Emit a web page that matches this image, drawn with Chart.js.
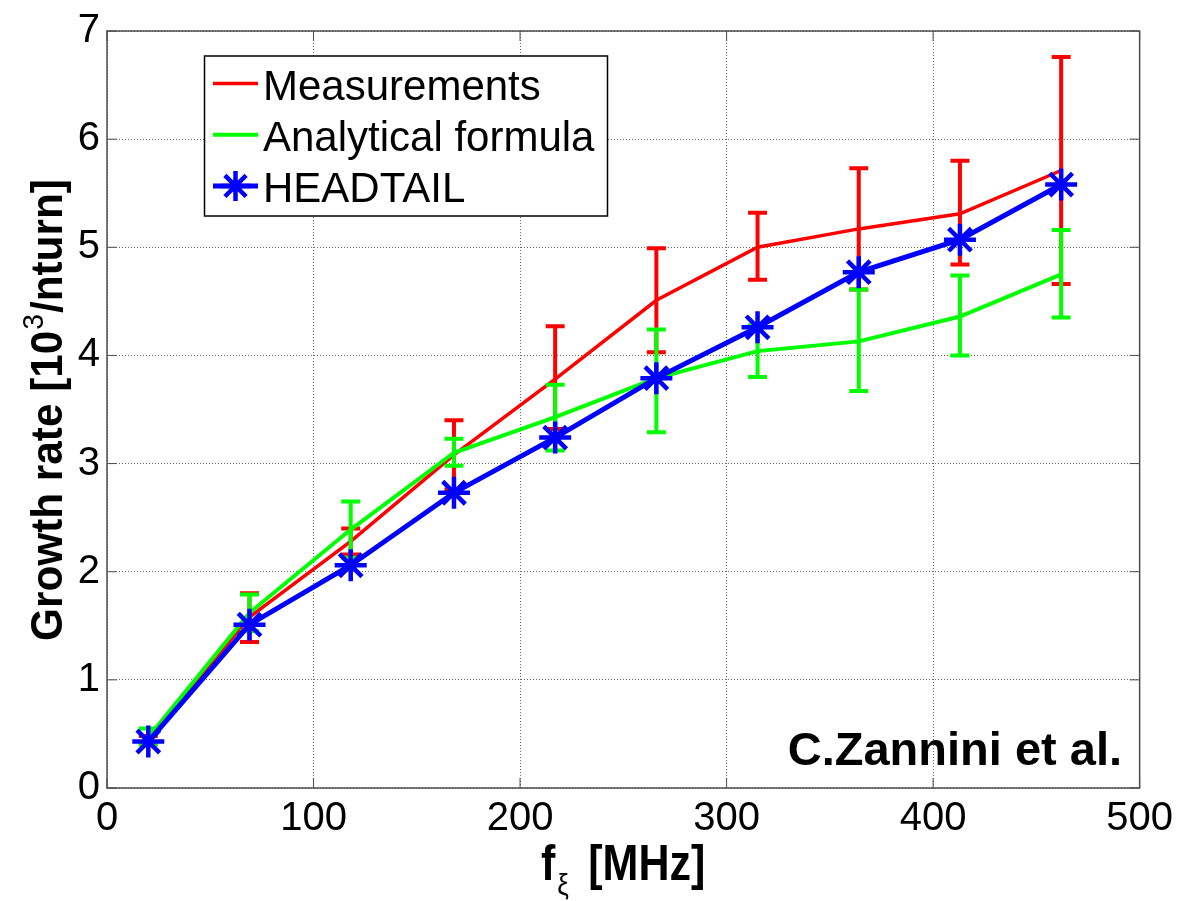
<!DOCTYPE html>
<html>
<head>
<meta charset="utf-8">
<script src="https://cdn.jsdelivr.net/npm/chart.js@4.4.0/dist/chart.umd.min.js"></script>
<style>
body { margin: 0; background: #fff; }
#wrap { width: 1180px; height: 901px; }
</style>
</head>
<body>
<div id="wrap"><canvas id="myChart" width="1180" height="901"></canvas></div>
<script>
// frequencies [MHz]
var freq = [20, 69, 118, 168, 217, 266, 315, 364, 413, 462];

var measurements = [0.45, 1.58, 2.28, 3.08, 3.78, 4.51, 5.00, 5.17, 5.31, 5.71];
var measLow      = [0.42, 1.35, 2.16, 2.76, 3.32, 4.03, 4.70, 4.61, 4.84, 4.66];
var measHigh     = [0.48, 1.80, 2.40, 3.40, 4.27, 4.99, 5.32, 5.73, 5.80, 6.76];

var analytical = [0.47, 1.62, 2.39, 3.10, 3.43, 3.79, 4.04, 4.13, 4.36, 4.75];
var anaLow     = [0.40, 1.45, 2.13, 2.98, 3.12, 3.29, 3.80, 3.67, 4.00, 4.35];
var anaHigh    = [0.55, 1.79, 2.65, 3.23, 3.73, 4.24, 4.28, 4.61, 4.74, 5.16];

var headtail = [0.43, 1.51, 2.06, 2.73, 3.24, 3.79, 4.26, 4.77, 5.07, 5.58];

var xTicks = [0, 100, 200, 300, 400, 500];
var yTicks = [0, 1, 2, 3, 4, 5, 6, 7];

function pts(ys) {
	return freq.map(function(f, i) { return {x: f, y: ys[i]}; });
}

var FONT = "'Liberation Sans', Arial, Helvetica, sans-serif";

// error bars, drawn right after their own line
var errorBars = {
	id: 'errorBars',
	afterDatasetDraw: function(chart, args) {
		var ds = chart.data.datasets[args.index];
		if (!ds.errLow) return;
		var sx = chart.scales.x, sy = chart.scales.y, ctx = chart.ctx, a = chart.chartArea;
		ctx.save();
		ctx.beginPath();
		ctx.rect(a.left, a.top, a.right - a.left, a.bottom - a.top);
		ctx.clip();
		ctx.strokeStyle = ds.borderColor;
		ctx.lineWidth = 4;
		ds.data.forEach(function(p, i) {
			var px = sx.getPixelForValue(p.x);
			var lo = sy.getPixelForValue(ds.errLow[i]);
			var hi = sy.getPixelForValue(ds.errHigh[i]);
			ctx.beginPath();
			ctx.moveTo(px, lo); ctx.lineTo(px, hi);
			ctx.moveTo(px - 9.5, lo); ctx.lineTo(px + 9.5, lo);
			ctx.moveTo(px - 9.5, hi); ctx.lineTo(px + 9.5, hi);
			ctx.stroke();
		});
		ctx.restore();
	}
};

// axes box, inward ticks, legend, labels
var decorations = {
	id: 'decorations',
	afterDraw: function(chart) {
		var ctx = chart.ctx, a = chart.chartArea, sx = chart.scales.x, sy = chart.scales.y;
		ctx.save();
		ctx.strokeStyle = '#4d4d4d';
		ctx.lineWidth = 1.5;
		ctx.strokeRect(a.left, a.top, a.right - a.left, a.bottom - a.top);
		ctx.lineWidth = 1;
		ctx.beginPath();
		xTicks.forEach(function(v) {
			var px = sx.getPixelForValue(v);
			ctx.moveTo(px, a.bottom); ctx.lineTo(px, a.bottom - 10);
			ctx.moveTo(px, a.top); ctx.lineTo(px, a.top + 10);
		});
		yTicks.forEach(function(v) {
			var py = sy.getPixelForValue(v);
			ctx.moveTo(a.left, py); ctx.lineTo(a.left + 10, py);
			ctx.moveTo(a.right, py); ctx.lineTo(a.right - 10, py);
		});
		ctx.stroke();

		// legend
		var lx = 204.5, ly = 56, lw = 403, lh = 160;
		ctx.fillStyle = '#fff';
		ctx.fillRect(lx, ly, lw, lh);
		ctx.strokeStyle = '#000';
		ctx.lineWidth = 1.5;
		ctx.strokeRect(lx, ly, lw, lh);
		[0, 1, 2].forEach(function(di, r) {
			var ds = chart.data.datasets[di];
			var cy = 83.5 + r * 51.2;
			ctx.strokeStyle = ds.borderColor;
			ctx.lineWidth = ds.borderWidth;
			ctx.beginPath();
			ctx.moveTo(213, cy); ctx.lineTo(258, cy);
			ctx.stroke();
			if (ds.pointStyle === 'star') {
				var cx = 235.5, rr = 15;
				ctx.lineWidth = 4.5;
				ctx.beginPath();
				ctx.moveTo(cx - rr, cy); ctx.lineTo(cx + rr, cy);
				ctx.moveTo(cx, cy - rr); ctx.lineTo(cx, cy + rr);
				var d = rr * 0.7071;
				ctx.moveTo(cx - d, cy - d); ctx.lineTo(cx + d, cy + d);
				ctx.moveTo(cx - d, cy + d); ctx.lineTo(cx + d, cy - d);
				ctx.stroke();
			}
			ctx.fillStyle = '#000';
			ctx.font = '42px ' + FONT;
			ctx.textAlign = 'left';
			ctx.textBaseline = 'alphabetic';
			ctx.fillText(ds.label, 263, cy + 16);
		});

		// annotation
		ctx.fillStyle = '#000';
		ctx.font = 'bold 47px ' + FONT;
		ctx.textAlign = 'right';
		ctx.fillText('C.Zannini et al.', 1122, 765);

		// x title: f_xi [MHz]
		ctx.save();
		ctx.translate(541, 880);
		ctx.scale(0.86, 1);
		ctx.textAlign = 'left';
		ctx.font = 'bold 50px ' + FONT;
		ctx.fillText('f', 0, 0);
		ctx.fillText('[MHz]', 55, 0);
		ctx.font = '30px ' + FONT;
		ctx.fillText('\u03be', 19, 15);
		ctx.restore();

		// y title
		ctx.save();
		ctx.translate(62, 411);
		ctx.rotate(-Math.PI / 2);
		ctx.scale(0.94, 1);
		ctx.textAlign = 'left';
		var bold = 'bold 45px ' + FONT, sup = '30px ' + FONT;
		var p1 = 'Growth rate [10', p2 = '3', p3 = '/nturn]';
		ctx.font = bold;
		var w1 = ctx.measureText(p1).width, w3 = ctx.measureText(p3).width;
		ctx.font = sup;
		var w2 = ctx.measureText(p2).width;
		var x0 = -(w1 + w2 + w3) / 2;
		ctx.font = bold;
		ctx.fillText(p1, x0, 0);
		ctx.font = sup;
		ctx.fillText(p2, x0 + w1 + 1, -19);
		ctx.font = bold;
		ctx.fillText(p3, x0 + w1 + w2 + 2, 0);
		ctx.restore();

		ctx.restore();
	}
};

var ctx = document.getElementById('myChart').getContext('2d');
var chart = new Chart(ctx, {
	type: 'scatter',
	data: {
		datasets: [
			{
				label: 'Measurements',
				data: pts(measurements),
				errLow: measLow,
				errHigh: measHigh,
				showLine: true,
				borderColor: '#ff0000',
				borderWidth: 3.5,
				pointRadius: 0,
				order: 3
			},
			{
				label: 'Analytical formula',
				data: pts(analytical),
				errLow: anaLow,
				errHigh: anaHigh,
				showLine: true,
				borderColor: '#00ff00',
				borderWidth: 4,
				pointRadius: 0,
				order: 2
			},
			{
				label: 'HEADTAIL',
				data: pts(headtail),
				showLine: true,
				borderColor: '#0000ff',
				borderWidth: 5,
				pointStyle: 'star',
				pointRadius: 16,
				pointBorderWidth: 4.5,
				pointBorderColor: '#0000ff',
				pointBackgroundColor: '#0000ff',
				order: 1
			}
		]
	},
	options: {
		responsive: false,
		animation: false,
		layout: { padding: { top: 26, right: 38, left: 0, bottom: 0 } },
		plugins: {
			legend: { display: false },
			tooltip: { enabled: false }
		},
		scales: {
			x: {
				type: 'linear',
				min: 0, max: 500,
				afterFit: function(s) { s.height = 113; },
				ticks: { stepSize: 100, color: '#000', padding: 7, font: { size: 40, family: FONT } },
				grid: { color: '#666', lineWidth: 1, drawTicks: false },
				border: { display: false, dash: [1, 2] }
			},
			y: {
				min: 0, max: 7,
				afterFit: function(s) { s.width = 107; },
				ticks: { stepSize: 1, color: '#000', padding: 7, font: { size: 40, family: FONT } },
				grid: { color: '#666', lineWidth: 1, drawTicks: false },
				border: { display: false, dash: [1, 2] }
			}
		}
	},
	plugins: [errorBars, decorations]
});
</script>
</body>
</html>
